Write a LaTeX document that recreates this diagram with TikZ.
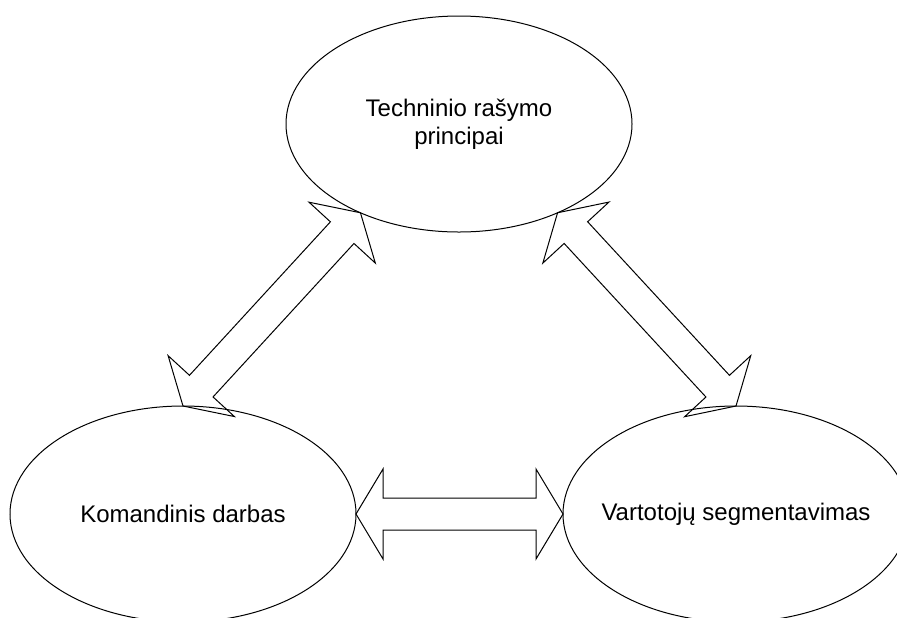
\documentclass[tikz,border=0pt]{standalone}
\usepackage{fontspec}
\setmainfont{Liberation Sans}
\usetikzlibrary{shapes.geometric, calc}

\begin{document}
\begin{tikzpicture}[x=0.5pt, y=-0.5pt, line width=0.5pt,
        font=\fontsize{12}{14}\selectfont,
        bubble/.style={draw, ellipse, minimum width=173pt, minimum height=108pt, inner sep=0pt, outer sep=0pt},
        bubbletext/.style={align=center},
        % hollow arrow with a head at both ends, drawn from start to target
        blockarrow/.style={draw, line join=miter, to path={
            -- ($(\tikztostart)!13.5pt!(\tikztotarget)!22.5pt!90:(\tikztotarget)$)
            -- ($(\tikztostart)!13.5pt!(\tikztotarget)!8pt!90:(\tikztotarget)$)
            -- ($(\tikztotarget)!13.5pt!(\tikztostart)!8pt!-90:(\tikztostart)$)
            -- ($(\tikztotarget)!13.5pt!(\tikztostart)!22.5pt!-90:(\tikztostart)$)
            -- (\tikztotarget)
            -- ($(\tikztotarget)!13.5pt!(\tikztostart)!22.5pt!90:(\tikztostart)$)
            -- ($(\tikztotarget)!13.5pt!(\tikztostart)!8pt!90:(\tikztostart)$)
            -- ($(\tikztostart)!13.5pt!(\tikztotarget)!8pt!-90:(\tikztotarget)$)
            -- ($(\tikztostart)!13.5pt!(\tikztotarget)!22.5pt!-90:(\tikztotarget)$)
            -- cycle}}]
        \clip (0,0) rectangle (897,617);
        \fill[white] (0,0) rectangle (897,617);
        \node[bubble, label={[bubbletext]center:Techninio rašymo\\principai}] (tech) at (459,124) {};
        \node[bubble, label={[bubbletext]center:Komandinis darbas}] (kom) at (183,514) {};
        \node[bubble, label={[bubbletext]center:Vartotojų segmentavimas}] (vart) at (736,514) {};
        \draw[blockarrow] (kom.north) to (tech.222);
        \draw[blockarrow] (tech.318) to (vart.north);
        \draw[blockarrow] (kom.east) to (vart.west);
      \end{tikzpicture}
\end{document}
